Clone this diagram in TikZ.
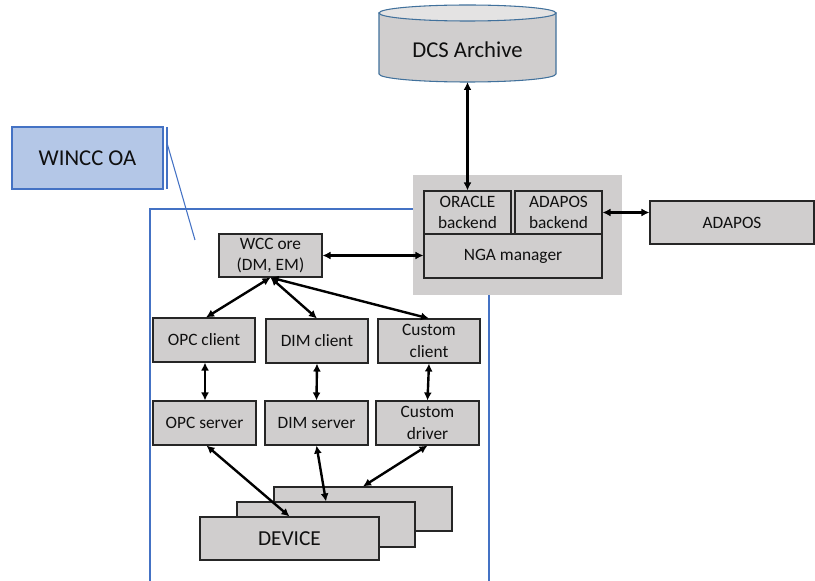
\documentclass[tikz,border=0pt]{standalone}
\usepackage{fontspec}
\setmainfont{Carlito}
\usetikzlibrary{arrows.meta,calc}
\definecolor{boxgray}{HTML}{D0CECE}
\definecolor{topgray}{HTML}{E4E3E3}
\definecolor{wblue}{HTML}{B4C7E7}
\definecolor{wborder}{HTML}{4472C4}
\definecolor{cylborder}{HTML}{41719C}
\definecolor{txt}{HTML}{101010}
\begin{document}
\begin{tikzpicture}[x=0.75pt,y=-0.75pt,
  w/.style={minimum width=#1*0.75pt},
  h/.style={minimum height=#1*0.75pt},
  box/.style={draw=black!85, line width=0.8pt, fill=boxgray, inner sep=0pt,
    align=center, text=txt, font=\fontsize{13}{16}\selectfont},
  bigtxt/.style={font=\fontsize{17}{20}\selectfont, text=txt},
  arr/.style={{Latex[length=6pt,width=6pt]}-{Latex[length=6pt,width=6pt]}, line width=1.8pt, black},
  blueline/.style={draw=wborder, line width=0.8pt}]
\useasboundingbox (0,0) rectangle (815,581);

% DCS Archive cylinder
\path[fill=boxgray, draw=cylborder, line width=0.8pt]
  (379,13) -- (379,74) arc[start angle=180, end angle=0, x radius=88.5, y radius=8] -- (556,13) -- cycle;
\path[fill=topgray, draw=cylborder, line width=0.8pt] (467.5,13) ellipse[x radius=88.5, y radius=8];
\node[bigtxt] (dcs) at (467.5,50) {DCS Archive};
\coordinate (dcsbot) at (467.5,82);

% WINCC OA frame
\path[blueline] (150,590) -- (150,209) -- (489,209) -- (489,590);

% WINCC OA callout
\node[draw=wborder, line width=0.8pt, fill=wblue, w=151, h=62, inner sep=0pt, bigtxt] (wincc) at (87.5,158) {WINCC OA};
\coordinate (calltop) at (167,127);
\coordinate (callbot) at (167,189);
\coordinate (callmid) at (167,143);
\coordinate (callend) at (195,240);
\path[blueline] (calltop) -- (callbot);
\path[blueline] (callmid) -- (callend);

% NGA group
\node[fill=boxgray, w=209, h=120, inner sep=0pt] (ngagroup) at (517.5,235) {};
\node[box, w=87, h=43] (oracle) at (467.5,212.5) {ORACLE\\backend};
\node[box, w=87, h=43] (adb) at (558.5,212.5) {ADAPOS\\backend};
\node[box, w=178, h=44] (nga) at (513,256) {NGA manager};
\node[box, w=164, h=43] (adapos) at (732,222.5) {ADAPOS};

% WCC core
\node[box, w=103, h=43] (wcc) at (270.5,255.5) {WCC ore\\(DM, EM)};

% clients
\node[box, w=102, h=44] (opcc) at (204,340) {OPC client};
\node[box, w=102, h=44] (dimc) at (317,341) {DIM client};
\node[box, w=102, h=44] (cusc) at (429,341) {Custom\\client};

% servers
\node[box, w=103, h=44] (opcs) at (204.5,423) {OPC server};
\node[box, w=103, h=44] (dims) at (316.5,423) {DIM server};
\node[box, w=103, h=44] (cusd) at (427.5,423) {Custom\\driver};

% devices
\node[box, w=178, h=44] (dev3) at (363,509) {};
\node[box, w=178, h=45] (dev2) at (326,524.5) {};
\node[box, w=179, h=43, font=\fontsize{16}{19}\selectfont] (dev1) at (289.5,538.5) {DEVICE};

% connectors
\draw[arr] (dcsbot) -- (oracle.north);
\draw[arr] (adb.east) -- (adb.east -| adapos.west);
\draw[arr] (wcc.east) -- (wcc.east -| nga.west);
\draw[arr] (wcc.south) -- ($(opcc.north)+(2,0)$);
\draw[arr] (wcc.south) -- (dimc.north);
\draw[arr] (wcc.south) -- (cusc.north);
\draw[arr] ($(opcc.south)+(1,0)$) -- ($(opcs.north)+(0.5,0)$);
\draw[arr] (dimc.south) -- (dims.north);
\draw[arr] (cusc.south) -- (cusd.north);
\draw[arr] ($(opcs.south)+(2,0)$) -- (dev1.north);
\draw[arr] (dims.south) -- (dev2.north);
\draw[arr] (cusd.south) -- (dev3.north);
\end{tikzpicture}
\end{document}
